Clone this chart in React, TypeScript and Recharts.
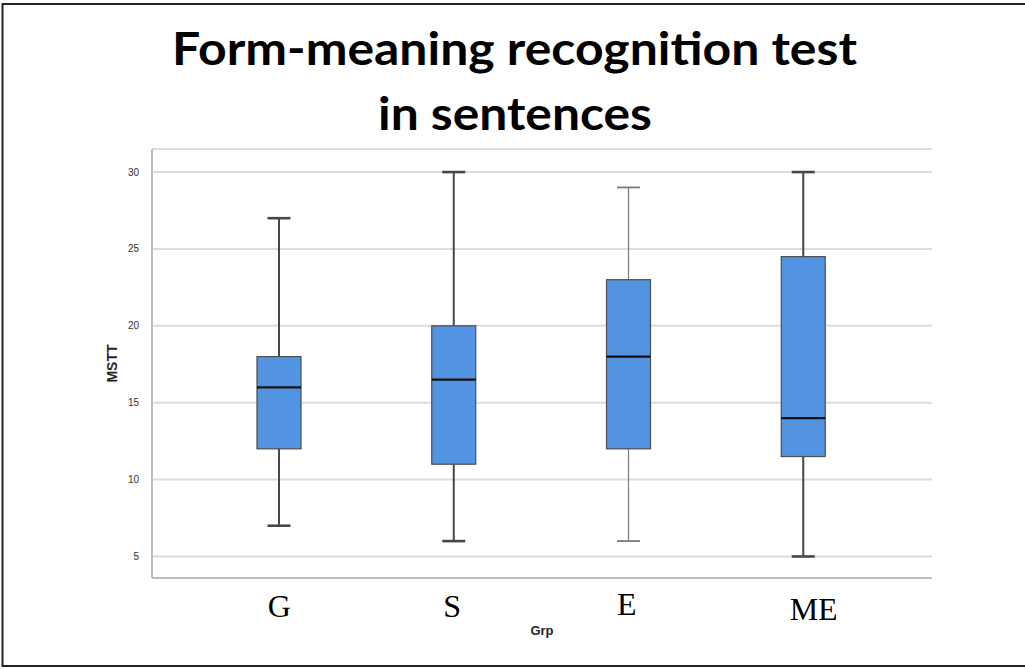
import { Bar, BarChart, CartesianGrid, XAxis, YAxis } from 'recharts';

// box plot values per group
const GROUPS = ['G', 'S', 'E', 'ME'];
const MIN = [7, 6, 6, 5];
const Q1 = [12, 11, 12, 11.5];
const MEDIAN = [16, 16.5, 18, 14];
const Q3 = [18, 20, 23, 24.5];
const MAX = [27, 30, 29, 30];
const Y_TICKS = [5, 10, 15, 20, 25, 30];

const W = 1025;
const H = 669;

const BOX_FILL = '#5294E2';
const BOX_EDGE = '#4d4d4d';
// whisker look differs a bit per group in the original (E is thinner)
const WHISKER = [
  { stroke: '#474747', w: 2 },
  { stroke: '#474747', w: 2 },
  { stroke: '#7a7a7a', w: 1.2 },
  { stroke: '#474747', w: 2 },
];
// the group letters were placed by hand in the original, slightly off-centre
const TICK_NUDGE = [
  { dx: 0, dy: 0 },
  { dx: -2, dy: 0 },
  { dx: -2, dy: -2 },
  { dx: 10, dy: 3 },
];

const data = GROUPS.map((g, i) => ({
  group: g,
  range: [MIN[i], MAX[i]],
  min: MIN[i],
  q1: Q1[i],
  median: MEDIAN[i],
  q3: Q3[i],
  max: MAX[i],
}));

function BoxShape(props: any) {
  const { x, y, width, height, payload, index } = props;
  if (!payload) return null;
  const top = Math.min(y, y + height);
  const h = Math.abs(height);
  const { min, max, q1, q3, median } = payload;
  const py = (v: number) => top + ((max - v) / (max - min)) * h;
  const cx = x + width / 2;
  const cap = 11.5;
  const wk = WHISKER[index] ?? WHISKER[0];
  return (
    <g>
      <line x1={cx} x2={cx} y1={py(max)} y2={py(q3)} stroke={wk.stroke} strokeWidth={wk.w} />
      <line x1={cx} x2={cx} y1={py(q1)} y2={py(min)} stroke={wk.stroke} strokeWidth={wk.w} />
      <line x1={cx - cap} x2={cx + cap} y1={py(max)} y2={py(max)} stroke={wk.stroke} strokeWidth={wk.w + 0.6} />
      <line x1={cx - cap} x2={cx + cap} y1={py(min)} y2={py(min)} stroke={wk.stroke} strokeWidth={wk.w + 0.6} />
      <rect x={x} y={py(q3)} width={width} height={py(q1) - py(q3)} fill={BOX_FILL} stroke={BOX_EDGE} strokeWidth={1.2} />
      <line x1={x} x2={x + width} y1={py(median)} y2={py(median)} stroke="#111" strokeWidth={2.2} />
    </g>
  );
}

function GroupTick(props: any) {
  const { x, y, payload, index } = props;
  const n = TICK_NUDGE[index] ?? { dx: 0, dy: 0 };
  return (
    <text
      x={x + n.dx}
      y={y + n.dy}
      dy={31}
      textAnchor="middle"
      fontFamily="'Liberation Serif', 'Times New Roman', serif"
      fontSize={32}
      fill="#000"
    >
      {payload.value}
    </text>
  );
}

export default function App() {
  return (
    <div style={{ position: 'absolute', left: 0, top: 0, width: W, height: H, background: '#fff' }}>
      <BarChart
        width={W}
        height={H}
        data={data}
        margin={{ top: 149, right: 93, bottom: 31, left: 112 }}
        barSize={44}
      >
        <CartesianGrid vertical={false} stroke="#dcdcdc" strokeWidth={2} />
        <XAxis
          dataKey="group"
          height={60}
          padding={{ left: 40, right: 41 }}
          axisLine={{ stroke: '#bdbdbd', strokeWidth: 2 }}
          tickLine={false}
          tick={<GroupTick />}
          interval={0}
          label={{
            value: 'Grp',
            position: 'insideBottom',
            offset: 3,
            style: { fontFamily: "'Liberation Sans', Arial, sans-serif", fontSize: 13, fontWeight: 700, fill: '#262626' },
          }}
        />
        <YAxis
          width={40}
          domain={[3.6, 31.5]}
          ticks={Y_TICKS}
          allowDataOverflow
          axisLine={{ stroke: '#bdbdbd', strokeWidth: 2 }}
          tickLine={false}
          tickMargin={7}
          tick={{ fontFamily: "'Liberation Sans', Arial, sans-serif", fontSize: 10, fill: '#333' }}
          label={{
            value: 'MSTT',
            angle: -90,
            position: 'insideLeft',
            offset: 0,
            style: { textAnchor: 'middle', fontFamily: "'Liberation Sans', Arial, sans-serif", fontSize: 14, fontWeight: 700, fill: '#262626' },
          }}
        />
        <Bar dataKey="range" shape={<BoxShape />} isAnimationActive={false} />
      </BarChart>

      <svg width={W} height={H} style={{ position: 'absolute', left: 0, top: 0, pointerEvents: 'none' }}>
        <rect x={2.5} y={4} width={W + 10} height={662} fill="none" stroke="#222" strokeWidth={2} />
        <text
          x={514.5}
          y={65}
          textAnchor="middle"
          fontFamily="Lato, 'Open Sans', sans-serif"
          fontWeight={700}
          fontSize={46}
          textLength={685}
          lengthAdjust="spacingAndGlyphs"
          fill="#000"
        >
          Form-meaning recognition test
        </text>
        <text
          x={515}
          y={130}
          textAnchor="middle"
          fontFamily="Lato, 'Open Sans', sans-serif"
          fontWeight={700}
          fontSize={46}
          textLength={274}
          lengthAdjust="spacingAndGlyphs"
          fill="#000"
        >
          in sentences
        </text>
      </svg>
    </div>
  );
}
